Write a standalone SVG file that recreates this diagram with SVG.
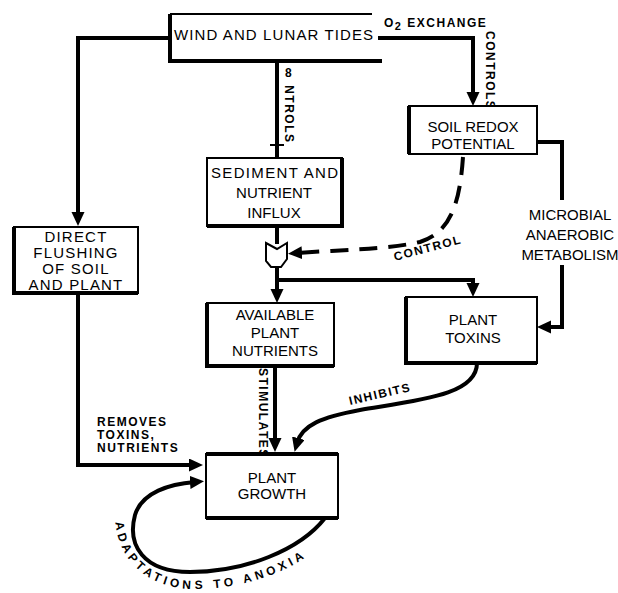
<svg xmlns="http://www.w3.org/2000/svg" width="618" height="593" viewBox="0 0 618 593">
<defs>
<marker id="ah" markerUnits="userSpaceOnUse" markerWidth="16" markerHeight="14" refX="5" refY="6.5" orient="auto" viewBox="0 0 16 14">
<path d="M0,0 L14,6.5 L0,13 Z" fill="#000"/>
</marker>
<style>
.t{font-family:"Liberation Sans",Arial,sans-serif;font-size:15px;fill:#000;text-anchor:middle}
.lb{font-family:"Liberation Sans",Arial,sans-serif;font-size:12px;font-weight:bold;fill:#000;letter-spacing:1.5px}
.box{fill:#fff;stroke:#000;stroke-width:2}
.sh{fill:none;stroke:#000;stroke-width:4}
.ln{fill:none;stroke:#000;stroke-width:4}
.arr{marker-end:url(#ah)}
.dash{stroke-dasharray:18 11}
</style>
</defs>
<rect width="618" height="593" fill="#fff"/>
<g id="connectors">
<path class="ln arr" d="M170,38 H78 V217"/>
<path class="ln arr" d="M378,38 H473 V97"/>
<path class="ln" d="M277,61 V158"/>
<line x1="270" y1="145" x2="284" y2="145" stroke="#000" stroke-width="2"/>
<path class="ln" d="M277,226 V244"/>
<path class="ln arr" d="M277,267 V294"/>
<path class="ln arr" d="M277,280 H473 V288"/>
<path class="ln dash arr" d="M463,157 C460,200 452,232 420,242 C390,249 340,250 297,253"/>
<path class="ln" d="M537,142 H562 V200"/>
<path class="ln arr" d="M562,265 V327 H546"/>
<path class="ln arr" d="M275,366 V443"/>
<path class="ln arr" d="M477,363 C477,395 420,400 360,410 C322,417 302,425 297,443"/>
<path class="ln arr" d="M78,293 V465 H194"/>
<path class="ln arr" d="M325,518 C300,550 245,572 190,572 C143,572 127,545 135,515 C142,492 170,484 195,482"/>
<path id="adpath" fill="none" d="M115,518 C117,562 150,589 194,589 C248,589 298,569 326,541"/>
<text class="lb" font-size="11"><textPath href="#adpath" startOffset="4" textLength="232" lengthAdjust="spacing">ADAPTATIONS  TO  ANOXIA</textPath></text>
<text class="lb" x="384" y="27">O<tspan dy="3" font-size="11">2</tspan><tspan dy="-3"> EXCHANGE</tspan></text>
<text class="lb" transform="translate(486,31) rotate(90)">CONTROLS</text>
<text class="lb" transform="translate(285,77) rotate(90)"><tspan rotate="-90">8</tspan>NTROLS</text>
<text class="lb" transform="translate(395,261) rotate(-15)">CONTROL</text>
<text class="lb" transform="translate(259,368) rotate(90)" letter-spacing="1.2">STIMULATES</text>
<text class="lb" transform="translate(350,405) rotate(-13)">INHIBITS</text>
<text class="lb" x="97" y="426" font-size="11" letter-spacing="2.2">REMOVES</text>
<text class="lb" x="97" y="439" font-size="11" letter-spacing="2.2">TOXINS,</text>
<text class="lb" x="97" y="452" font-size="11" letter-spacing="2.2">NUTRIENTS</text>
</g>
<g id="wind">
<path d="M170,14 H372" stroke="#000" stroke-width="2" fill="none"/>
<path d="M170,14 V61 H382" class="sh"/>
<text class="t" x="174" y="40" style="text-anchor:start" textLength="199" lengthAdjust="spacing">WIND AND LUNAR TIDES</text>
</g>
<g id="soilredox">
<rect class="box" x="409" y="106" width="128" height="48"/>
<path class="sh" d="M409,106 V154"/>
<text class="t" x="473" y="132">SOIL REDOX</text>
<text class="t" x="473" y="149">POTENTIAL</text>
</g>
<g id="sediment">
<rect class="box" x="207" y="158" width="135" height="68"/>
<path class="sh" d="M342,158 V226 H207"/>
<text class="t" x="211" y="178" style="text-anchor:start" textLength="127" lengthAdjust="spacing">SEDIMENT AND</text>
<text class="t" x="274" y="198">NUTRIENT</text>
<text class="t" x="274" y="218">INFLUX</text>
</g>
<g id="gate">
<path d="M266,243 L277,249 L287,243 L287,259 L281,267 L271,267 L266,261 Z" fill="#fff" stroke="#000" stroke-width="2"/>
</g>
<g id="direct">
<rect class="box" x="14" y="227" width="124" height="66"/>
<path class="sh" d="M14,227 V293 H138"/>
<text class="t" x="76" y="242" font-size="14" letter-spacing="1.2">DIRECT</text>
<text class="t" x="76" y="258" font-size="14" letter-spacing="1.2">FLUSHING</text>
<text class="t" x="76" y="274" font-size="14" letter-spacing="1.2">OF SOIL</text>
<text class="t" x="76" y="290" font-size="14" letter-spacing="1.2">AND PLANT</text>
</g>
<g id="available">
<rect class="box" x="207" y="303" width="127" height="63"/>
<path class="sh" d="M207,303 V366 H334"/>
<text class="t" x="275" y="320">AVAILABLE</text>
<text class="t" x="275" y="338">PLANT</text>
<text class="t" x="275" y="356">NUTRIENTS</text>
</g>
<g id="toxins">
<rect class="box" x="406" y="297" width="131" height="66"/>
<path class="sh" d="M406,297 V363 H537"/>
<text class="t" x="473" y="325">PLANT</text>
<text class="t" x="473" y="343">TOXINS</text>
</g>
<g id="microbial">
<text class="t" x="570" y="220">MICROBIAL</text>
<text class="t" x="570" y="240">ANAEROBIC</text>
<text class="t" x="570" y="260">METABOLISM</text>
</g>
<g id="growth">
<rect class="box" x="206" y="454" width="132" height="64"/>
<path class="sh" d="M206,454 H338 M206,518 H338"/>
<text class="t" x="272" y="483">PLANT</text>
<text class="t" x="272" y="499">GROWTH</text>
</g>
</svg>
